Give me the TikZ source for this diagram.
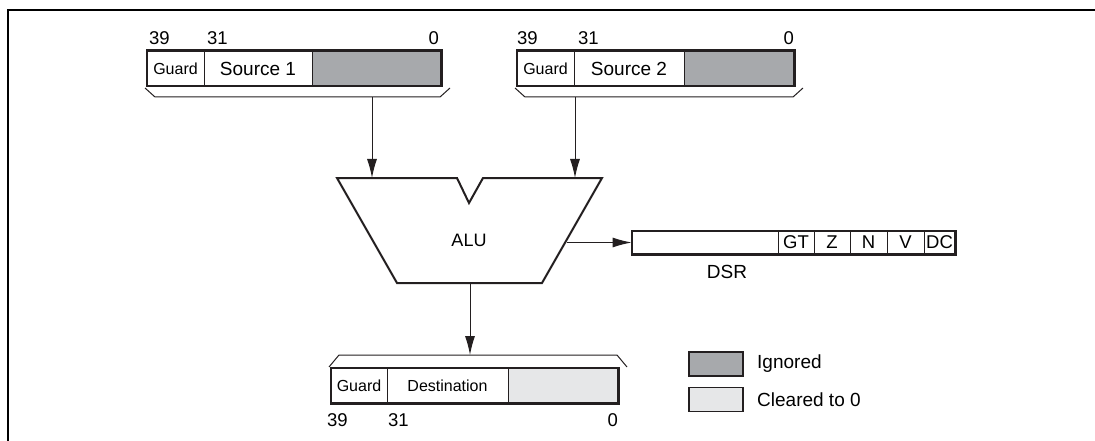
\documentclass[tikz,border=0pt]{standalone}
\usepackage{fontspec}
\setmainfont{Liberation Sans}
\usetikzlibrary{arrows.meta}
\definecolor{ign}{HTML}{A7A9AC}
\definecolor{clr}{HTML}{E6E7E8}
\definecolor{ln}{HTML}{231F20}
\begin{document}
\begin{tikzpicture}[x=1pt,y=-1pt,
 field/.style={draw=ln, line width=0.8pt, minimum height=35pt, inner sep=0pt, font=\fontsize{19}{19}\selectfont},
 guard/.style={field, font=\fontsize{16}{16}\selectfont},
 dsrfield/.style={draw=ln, line width=0.8pt, minimum height=23pt, inner sep=0pt, font=\fontsize{18.5}{18.5}\selectfont},
 outline/.style={draw=ln, line width=2.2pt},
 brk/.style={draw=ln, line width=1pt},
 num/.style={font=\fontsize{18.5}{18.5}\selectfont, inner sep=0pt},
 lbl/.style={font=\fontsize{19}{19}\selectfont, inner sep=0pt},
 arr/.style={draw=ln, line width=1pt, -{Latex[length=19pt,width=10pt]}},
 legbox/.style={draw=ln, line width=1.2pt, minimum width=54pt, minimum height=24pt, inner sep=0pt},
]
\useasboundingbox (0,0) rectangle (1095,441);
\draw[line width=2pt] (8,441) -- (8,10) -- (1095,10);

% Source 1
\node[guard, minimum width=57pt] (g1) at (175.5,68.5) {Guard};
\node[field, minimum width=108pt] (s1) at (258,68.5) {Source 1};
\node[field, fill=ign, minimum width=129pt] (i1) at (376.5,68.5) {};
\draw[outline] (g1.north west) rectangle (i1.south east);
\node[num, anchor=west] (n391) at (149,38) {39};
\node[num, anchor=west] (n311) at (207,38) {31};
\node[num, anchor=east] (n01) at (439,38) {0};
\draw[brk] (145,88) -- (155,97) -- (440,97) -- (450,88);
\coordinate (b1) at (372,97);

% Source 2
\node[guard, minimum width=57pt] (g2) at (545.5,68.5) {Guard};
\node[field, minimum width=110pt] (s2) at (629,68.5) {Source 2};
\node[field, fill=ign, minimum width=110pt] (i2) at (739,68.5) {};
\draw[outline] (g2.north west) rectangle (i2.south east);
\node[num, anchor=west] (n392) at (517,38) {39};
\node[num, anchor=west] (n312) at (578,38) {31};
\node[num, anchor=east] (n02) at (794,38) {0};
\draw[brk] (515,88) -- (525,97) -- (793,97) -- (803,88);
\coordinate (b2) at (575,97);

% ALU
\draw[line width=2pt, draw=ln, line join=miter] (337,178) -- (457,178) -- (469,203) -- (483,178) -- (602,178) -- (542,283) -- (397,283) -- cycle;
\node[lbl, font=\fontsize{18}{18}\selectfont] (alu) at (469,240) {ALU};
\coordinate (a1) at (372,178);
\coordinate (a2) at (575,178);
\coordinate (aout) at (566.6,242.5);
\coordinate (abot) at (470,283);
\draw[arr] (b1) -- (a1);
\draw[arr] (b2) -- (a2);

% DSR
\node[dsrfield, minimum width=146pt] (dsr) at (705,242.5) {};
\node[dsrfield, minimum width=36pt] (gt) at (796,242.5) {GT};
\node[dsrfield, minimum width=36pt] (z) at (832,242.5) {Z};
\node[dsrfield, minimum width=37pt] (n) at (868.5,242.5) {N};
\node[dsrfield, minimum width=37pt] (v) at (905.5,242.5) {V};
\node[dsrfield, minimum width=31pt] (dc) at (939.5,242.5) {DC};
\draw[outline] (dsr.north west) rectangle (dc.south east);
\node[lbl] (dsrl) at (727,272) {DSR};
\draw[arr] (aout) -- (dsr.west);

% Destination
\draw[brk] (329,367) -- (339,355) -- (617,355) -- (627,367);
\coordinate (bd) at (470,355);
\draw[arr] (abot) -- (bd);
\node[guard, minimum width=56pt] (gd) at (359,385.5) {Guard};
\node[guard, minimum width=121pt] (sd) at (447.5,385.5) {Destination};
\node[field, fill=clr, minimum width=110pt] (cd) at (563,385.5) {};
\draw[outline] (gd.north west) rectangle (cd.south east);
\node[num, anchor=west] (n39d) at (327,420) {39};
\node[num, anchor=west] (n31d) at (388,420) {31};
\node[num, anchor=east] (n0d) at (618,420) {0};

% Legend
\node[legbox, fill=ign] (lig) at (716,364) {};
\node[legbox, fill=clr] (lcl) at (716,399.5) {};
\node[lbl, anchor=west] (tig) at (757,364) {Ignored};
\node[lbl, anchor=west] (tcl) at (757,400) {Cleared to 0};
\end{tikzpicture}
\end{document}
